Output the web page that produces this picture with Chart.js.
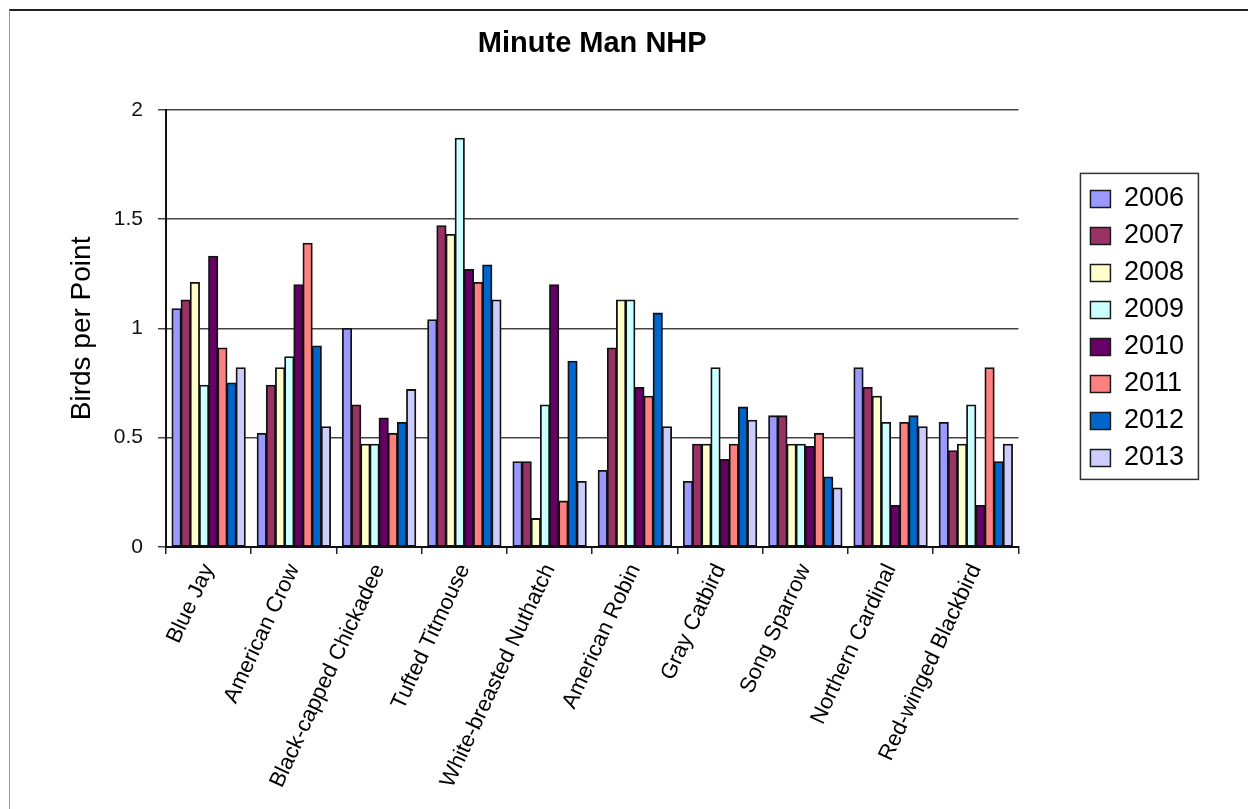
<!DOCTYPE html>
<html>
<head>
<meta charset="utf-8">
<script src="https://cdn.jsdelivr.net/npm/chart.js@4"></script>
<style>
  body { margin: 0; background: #fff; }
  #wrap { position: relative; width: 1248px; height: 809px; overflow: hidden; }
  #frame { position: absolute; left: 9px; top: 9px; width: 1300px; height: 900px;
           border-top: 2px solid #222; border-left: 1px solid #999; }
  #myChart { position: absolute; left: 0; top: 0; }
</style>
</head>
<body>
<div id="wrap">
  <div id="frame"></div>
  <canvas id="myChart" width="1248" height="809"></canvas>
</div>
<script>
// birds per point
var birds = ['Blue Jay', 'American Crow', 'Black-capped Chickadee', 'Tufted Titmouse',
  'White-breasted Nuthatch', 'American Robin', 'Gray Catbird', 'Song Sparrow',
  'Northern Cardinal', 'Red-winged Blackbird'];
var years = ['2006', '2007', '2008', '2009', '2010', '2011', '2012', '2013'];

var y2006 = [1.09, 0.52, 1.00, 1.04, 0.39, 0.35, 0.30, 0.60, 0.82, 0.57];
var y2007 = [1.13, 0.74, 0.65, 1.47, 0.39, 0.91, 0.47, 0.60, 0.73, 0.44];
var y2008 = [1.21, 0.82, 0.47, 1.43, 0.13, 1.13, 0.47, 0.47, 0.69, 0.47];
var y2009 = [0.74, 0.87, 0.47, 1.87, 0.65, 1.13, 0.82, 0.47, 0.57, 0.65];
var y2010 = [1.33, 1.20, 0.59, 1.27, 1.20, 0.73, 0.40, 0.46, 0.19, 0.19];
var y2011 = [0.91, 1.39, 0.52, 1.21, 0.21, 0.69, 0.47, 0.52, 0.57, 0.82];
var y2012 = [0.75, 0.92, 0.57, 1.29, 0.85, 1.07, 0.64, 0.32, 0.60, 0.39];
var y2013 = [0.82, 0.55, 0.72, 1.13, 0.30, 0.55, 0.58, 0.27, 0.55, 0.47];

var yTicks = [0, 0.5, 1, 1.5, 2];

var series = [y2006, y2007, y2008, y2009, y2010, y2011, y2012, y2013];
var colors = ['#9999FF', '#993366', '#FFFFCC', '#CCFFFF', '#660066', '#FF8080', '#0066CC', '#CCCCFF'];

var FONT = "'Liberation Sans', Arial, sans-serif";
Chart.defaults.font.family = FONT;
Chart.defaults.color = '#000';

var datasets = [];
for (var i = 0; i < years.length; i++) {
  datasets.push({
    label: years[i],
    data: series[i],
    backgroundColor: colors[i],
    borderColor: '#111',
    borderWidth: 1.8,
    borderSkipped: false,
    inflateAmount: 0.5
  });
}

// box round the legend, like the excel one
var legendBox = {
  id: 'legendBox',
  afterDraw: function (chart) {
    var lg = chart.legend;
    if (!lg || !lg.legendHitBoxes || !lg.legendHitBoxes.length) return;
    var hb = lg.legendHitBoxes;
    var first = hb[0], last = hb[hb.length - 1];
    var c = chart.ctx;
    c.save();
    c.strokeStyle = '#333';
    c.lineWidth = 1.5;
    c.strokeRect(first.left - 10, first.top - 12, 118, last.top + last.height - first.top + 20);
    c.restore();
  }
};

var ctx = document.getElementById('myChart');

var myChart = new Chart(ctx, {
  type: 'bar',
  data: { labels: birds, datasets: datasets },
  plugins: [legendBox],
  options: {
    responsive: false,
    animation: false,
    datasets: { bar: { categoryPercentage: 0.86, barPercentage: 1.0 } },
    layout: { padding: { top: 12, left: 12, right: 54, bottom: 0 } },
    plugins: {
      title: {
        display: true,
        text: 'Minute Man NHP',
        fullSize: false,
        font: { size: 29, weight: 'bold' },
        color: '#000',
        padding: { top: 15, bottom: 48 }
      },
      legend: {
        position: 'right',
        fullSize: false,
        labels: {
          boxWidth: 20,
          boxHeight: 17,
          padding: 10,
          font: { size: 27 },
          color: '#000',
          generateLabels: function (chart) {
            var items = Chart.defaults.plugins.legend.labels.generateLabels(chart);
            items.forEach(function (it) { it.lineWidth = 1.5; it.strokeStyle = '#1a1a1a'; });
            return items;
          }
        }
      },
      tooltip: { enabled: false }
    },
    scales: {
      x: {
        grid: { drawOnChartArea: false, drawTicks: true, tickLength: 7, color: '#222', lineWidth: 1.5 },
        border: { color: '#111', width: 2 },
        ticks: { autoSkip: false, minRotation: 65, maxRotation: 65, padding: 6, font: { size: 22 }, color: '#000' },
        afterFit: function (s) { s.height = 262; }
      },
      y: {
        min: 0,
        max: 2,
        afterBuildTicks: function (s) { s.ticks = yTicks.map(function (v) { return { value: v }; }); },
        grid: { color: '#444', lineWidth: 1.5, tickLength: 8 },
        border: { color: '#111', width: 2 },
        ticks: { padding: 15, font: { size: 21 }, color: '#111', callback: function (v) { return String(v); } },
        title: { display: true, text: 'Birds per Point', font: { size: 28 }, color: '#000', padding: { top: 53, bottom: 0 } },
        afterFit: function (s) { s.width = 154; }
      },
      gap: {
        // empty right axis, only keeps the legend away from the plot
        position: 'right',
        display: true,
        grid: { display: false },
        border: { display: false },
        ticks: { display: false },
        afterFit: function (s) { s.width = 62; }
      }
    }
  }
});
</script>
</body>
</html>
